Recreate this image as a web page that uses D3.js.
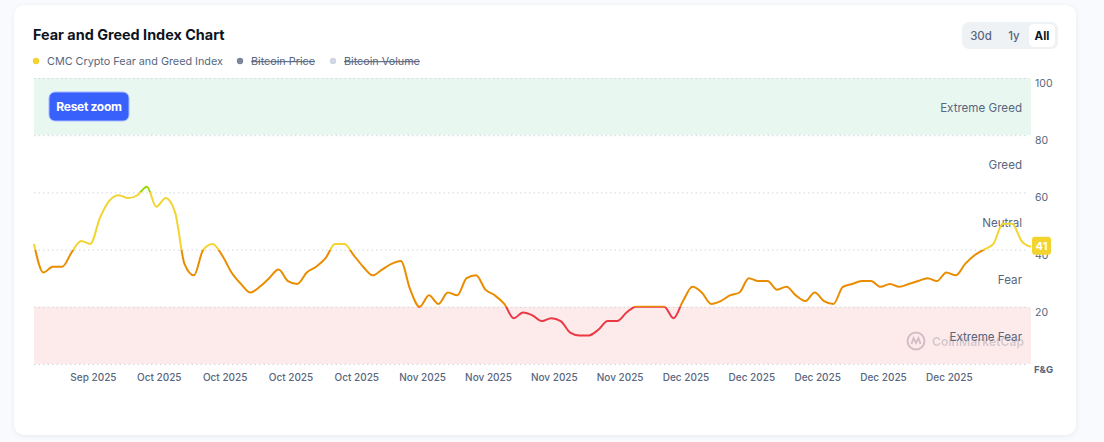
<!DOCTYPE html>
<html>
<head>
<meta charset="utf-8">
<script src="https://cdn.jsdelivr.net/npm/d3@7"></script>
<style>
  body { margin: 0; background: #f8fafd; font-family: Inter, "Noto Sans", sans-serif; }
  svg text { font-family: Inter, "Noto Sans", sans-serif; }
</style>
</head>
<body>
<div id="main"></div>
<script>
// data

const startDay = '2025-09-23';
const fngValues = [
  42, 32, 34, 34, 39, 43, 42, 51, 57, 59,
  58, 59, 62, 55, 58, 53, 35, 31, 40, 42,
  38, 32, 28, 25, 27, 30, 33, 29, 28, 32,
  34, 37, 42, 42, 38, 34, 31, 33, 35, 36,
  26, 20, 24, 21, 25, 24, 30, 31, 26, 24,
  21, 16, 18, 17, 15, 16, 15, 11, 10, 10,
  12, 15, 15, 18, 20, 20, 20, 20, 16, 22,
  27, 25, 21, 22, 24, 25, 30, 29, 29, 26,
  27, 24, 22, 25, 22, 21, 27, 28, 29, 29,
  27, 28, 27, 28, 29, 30, 29, 32, 31, 35,
  38, 40, 42, 49, 49, 43, 41
];
const tickDays = [
  '2025-09-29', '2025-10-06', '2025-10-13', '2025-10-20', '2025-10-27',
  '2025-11-03', '2025-11-10', '2025-11-17', '2025-11-24', '2025-12-01',
  '2025-12-08', '2025-12-15', '2025-12-22', '2025-12-29'
];
const yTicks = [0, 20, 40, 60, 80, 100];
const zoneNames = ['Extreme Fear', 'Fear', 'Neutral', 'Greed', 'Extreme Greed'];
const zoneColors = ['#ea3943', '#ea8c00', '#f3d42f', '#93d900', '#16c784'];

// SVG

const w = 1104;
const h = 442;

const parseDay = d3.timeParse('%Y-%m-%d');
const start = parseDay(startDay);
const points = fngValues.map((v, i) => ({ date: d3.timeDay.offset(start, i), value: v }));

const x = d3.scaleTime()
  .domain(d3.extent(points, d => d.date))
  .range([34, 1031]);

const y = d3.scaleLinear()
  .domain([0, 100])
  .range([364, 78]);

const svg = d3.select('#main')
  .append('svg')
  .attr('width', w)
  .attr('height', h);

// card
svg.append('rect')
  .attr('x', 14).attr('y', 5)
  .attr('width', 1062).attr('height', 430)
  .attr('rx', 10)
  .attr('fill', '#fff')
  .style('filter', 'drop-shadow(0px 1px 2px rgba(88,102,126,0.10))');

// title + legend
svg.append('text')
  .attr('x', 33).attr('y', 40)
  .attr('font-size', 14.4).attr('font-weight', 700)
  .attr('fill', '#0d1421')
  .text('Fear and Greed Index Chart');

const legendItems = [
  { label: 'CMC Crypto Fear and Greed Index', color: '#f3d42f', x: 36, off: false },
  { label: 'Bitcoin Price', color: '#7c859a', x: 240, off: true },
  { label: 'Bitcoin Volume', color: '#cfd6e4', x: 333, off: true }
];
const lg = svg.selectAll('.legend')
  .data(legendItems)
  .enter()
  .append('g')
  .attr('transform', d => `translate(${d.x}, 61)`);
lg.append('circle').attr('r', 3.2).attr('fill', d => d.color);
lg.append('text')
  .attr('x', 11).attr('y', 4)
  .attr('font-size', 10.8)
  .attr('fill', '#58667e')
  .attr('text-decoration', d => d.off ? 'line-through' : null)
  .text(d => d.label);

// range buttons
svg.append('rect')
  .attr('x', 962).attr('y', 22).attr('width', 96).attr('height', 27)
  .attr('rx', 7).attr('fill', '#eff2f5');
svg.append('rect')
  .attr('x', 1029).attr('y', 24).attr('width', 26).attr('height', 23)
  .attr('rx', 5).attr('fill', '#fff');
svg.selectAll('.range')
  .data([['30d', 981, 500, '#58667e'], ['1y', 1014, 500, '#58667e'], ['All', 1042, 700, '#0d1421']])
  .enter()
  .append('text')
  .attr('x', d => d[1]).attr('y', 40)
  .attr('text-anchor', 'middle')
  .attr('font-size', 11.5)
  .attr('font-weight', d => d[2])
  .attr('fill', d => d[3])
  .text(d => d[0]);

// bands
svg.append('rect')
  .attr('x', x.range()[0]).attr('y', y(100))
  .attr('width', x.range()[1] - x.range()[0]).attr('height', y(80) - y(100))
  .attr('fill', '#e8f8f1');
svg.append('rect')
  .attr('x', x.range()[0]).attr('y', y(20))
  .attr('width', x.range()[1] - x.range()[0]).attr('height', y(0) - y(20))
  .attr('fill', '#fdeaea');

// grid
svg.selectAll('.grid')
  .data(yTicks)
  .enter()
  .append('line')
  .attr('x1', x.range()[0]).attr('x2', 1028)
  .attr('y1', d => y(d) + 0.5).attr('y2', d => y(d) + 0.5)
  .attr('stroke', '#cfd6e4')
  .attr('stroke-dasharray', '1.5,3');

// watermark
const wm = svg.append('g').attr('transform', 'translate(916, 341)').attr('opacity', 0.35);
wm.append('circle').attr('r', 8.5).attr('fill', 'none').attr('stroke', '#8a6b85').attr('stroke-width', 2);
wm.append('path')
  .attr('d', 'M-4.5,3 L-2.5,-3 L0,2 L2.5,-3 L4.5,3')
  .attr('fill', 'none').attr('stroke', '#8a6b85').attr('stroke-width', 1.8);
wm.append('text')
  .attr('x', 16).attr('y', 4.5)
  .attr('font-size', 12.2).attr('font-weight', 600)
  .attr('fill', '#8a8aa0')
  .text('CoinMarketCap');

// zone labels
svg.selectAll('.zone')
  .data(zoneNames)
  .enter()
  .append('text')
  .attr('x', 1022)
  .attr('y', (d, i) => y(i * 20 + 10) + 5.5)
  .attr('text-anchor', 'end')
  .attr('font-size', 11.6)
  .attr('fill', '#58667e')
  .text(d => d);

// y axis
svg.selectAll('.ytick')
  .data(yTicks.filter(d => d > 0))
  .enter()
  .append('text')
  .attr('x', 1035)
  .attr('y', d => y(d) + 9)
  .attr('font-size', 10.5)
  .attr('fill', '#58667e')
  .text(d => d);
svg.append('text')
  .attr('x', 1034).attr('y', 373)
  .attr('font-size', 9.5).attr('font-weight', 700)
  .attr('fill', '#58667e')
  .text('F&G');

// x axis
const xAxis = d3.axisBottom(x)
  .tickValues(tickDays.map(parseDay))
  .tickFormat(d3.timeFormat('%b %Y'))
  .tickSize(0)
  .tickPadding(10);
svg.append('g')
  .attr('transform', `translate(2.5, ${y(0)})`)
  .call(xAxis)
  .call(g => g.select('.domain').remove())
  .selectAll('text')
  .attr('font-size', 10)
  .attr('font-weight', 500)
  .attr('fill', '#58667e');

// line gradient by zone
const grad = svg.append('defs')
  .append('linearGradient')
  .attr('id', 'fngGrad')
  .attr('gradientUnits', 'userSpaceOnUse')
  .attr('x1', 0).attr('x2', 0)
  .attr('y1', y(0)).attr('y2', y(100));
zoneColors.forEach((c, i) => {
  grad.append('stop').attr('offset', (i * 20) + '%').attr('stop-color', c);
  grad.append('stop').attr('offset', (i * 20 + 20) + '%').attr('stop-color', c);
});

const line = d3.line()
  .x(d => x(d.date))
  .y(d => y(d.value))
  .curve(d3.curveMonotoneX);

svg.append('path')
  .datum(points)
  .attr('d', line)
  .attr('fill', 'none')
  .attr('stroke', 'url(#fngGrad)')
  .attr('stroke-width', 2);

// last value badge
const last = points[points.length - 1];
svg.append('rect')
  .attr('x', x(last.date) + 1).attr('y', y(last.value) - 10)
  .attr('width', 19).attr('height', 18)
  .attr('rx', 3)
  .attr('fill', '#f3d42f');
svg.append('text')
  .attr('x', x(last.date) + 10.5).attr('y', y(last.value) + 3.5)
  .attr('text-anchor', 'middle')
  .attr('font-size', 11).attr('font-weight', 700)
  .attr('fill', '#fff')
  .text(last.value);

// reset zoom button
svg.append('rect')
  .attr('x', 49).attr('y', 92).attr('width', 80).attr('height', 29)
  .attr('rx', 6)
  .attr('fill', '#3861fb')
  .attr('stroke', '#a9b9ff').attr('stroke-width', 1);
svg.append('text')
  .attr('x', 89).attr('y', 110.5)
  .attr('text-anchor', 'middle')
  .attr('font-size', 12).attr('font-weight', 700)
  .attr('fill', '#fff')
  .attr('letter-spacing', -0.3)
  .text('Reset zoom');
</script>
</body>
</html>
